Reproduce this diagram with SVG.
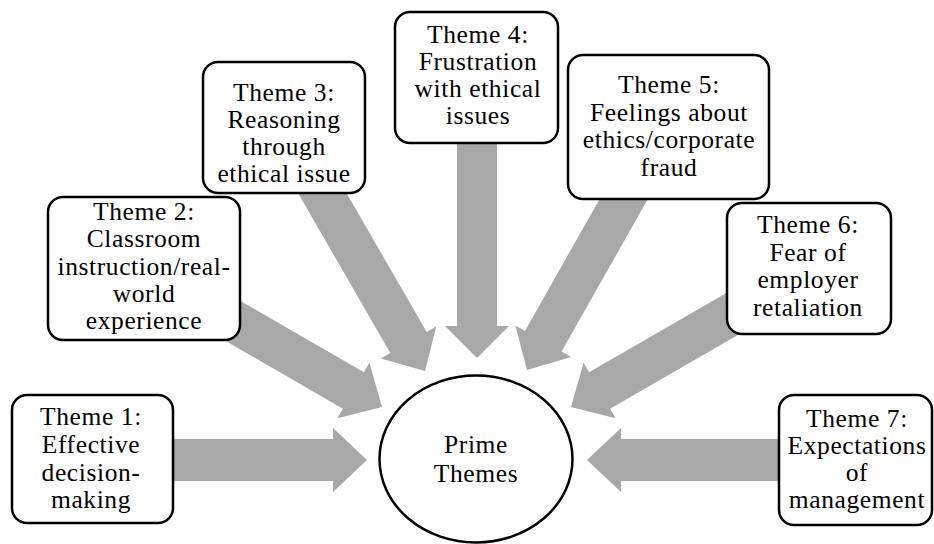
<svg xmlns="http://www.w3.org/2000/svg" width="934" height="544" viewBox="0 0 934 544">
<defs>
<style>
.arrow{fill:#a8a8a8;stroke:none}
.box{fill:#ffffff;stroke:#000000;stroke-width:2.5}
.hub{fill:#ffffff;stroke:#000000;stroke-width:2.5}
.t{font-family:'Liberation Serif','Tinos','Times New Roman','DejaVu Serif',serif;font-size:25.5px;letter-spacing:0.6px;fill:#000000;text-anchor:middle}
</style>
</defs>
<rect x="0" y="0" width="934" height="544" fill="#ffffff"/>
<g id="connectors">
<polygon class="arrow" transform="translate(367,460)" points="0,0 -34,-32 -34,-21 -217,-21 -217,21 -34,21 -34,32"/>
<polygon class="arrow" transform="translate(382,407) rotate(30)" points="0,0 -33,-32 -33,-21 -200,-21 -200,21 -33,21 -33,32"/>
<polygon class="arrow" transform="translate(425,371) rotate(60)" points="0,0 -33,-32 -33,-21 -220,-21 -220,21 -33,21 -33,32"/>
<polygon class="arrow" transform="translate(477,358) rotate(90)" points="0,0 -32,-32 -32,-20 -258,-20 -258,20 -32,20 -32,32"/>
<polygon class="arrow" transform="translate(527,370) rotate(119.5)" points="0,0 -33,-32 -33,-21 -220,-21 -220,21 -33,21 -33,32"/>
<polygon class="arrow" transform="translate(571,407) rotate(150)" points="0,0 -33,-32 -33,-21 -200,-21 -200,21 -33,21 -33,32"/>
<polygon class="arrow" transform="translate(587,460) rotate(180)" points="0,0 -34,-32 -34,-21 -213,-21 -213,21 -34,21 -34,32"/>
</g>
<g class="t" font-family="Liberation Serif, Tinos, Times New Roman, serif">
<g id="theme1">
<rect class="box" x="12" y="395" width="161" height="128" rx="15" ry="15"/>
<text x="91" y="425">Theme 1:</text>
<text x="91" y="453">Effective</text>
<text x="91" y="481">decision-</text>
<text x="91" y="508">making</text>
</g>
<g id="theme2">
<rect class="box" x="48" y="197" width="192" height="143" rx="15" ry="15"/>
<text x="144" y="220">Theme 2:</text>
<text x="144" y="247">Classroom</text>
<text x="144" y="275">instruction/real-</text>
<text x="144" y="302">world</text>
<text x="144" y="329">experience</text>
</g>
<g id="theme3">
<rect class="box" x="203" y="62" width="162" height="131" rx="15" ry="15"/>
<text x="284" y="101">Theme 3:</text>
<text x="284" y="128">Reasoning</text>
<text x="284" y="155">through</text>
<text x="284" y="182">ethical issue</text>
</g>
<g id="theme4">
<rect class="box" x="395" y="12" width="163" height="131" rx="15" ry="15"/>
<text x="478" y="43">Theme 4:</text>
<text x="478" y="70">Frustration</text>
<text x="478" y="97">with ethical</text>
<text x="478" y="124">issues</text>
</g>
<g id="theme5">
<rect class="box" x="568" y="55" width="201" height="144" rx="15" ry="15"/>
<text x="669" y="93">Theme 5:</text>
<text x="669" y="121">Feelings about</text>
<text x="669" y="148">ethics/corporate</text>
<text x="669" y="176">fraud</text>
</g>
<g id="theme6">
<rect class="box" x="727" y="203" width="164" height="131" rx="15" ry="15"/>
<text x="808" y="233">Theme 6:</text>
<text x="808" y="261">Fear of</text>
<text x="808" y="288">employer</text>
<text x="808" y="316">retaliation</text>
</g>
<g id="theme7">
<rect class="box" x="779" y="395" width="153" height="130" rx="15" ry="15"/>
<text x="857" y="427">Theme 7:</text>
<text x="857" y="454">Expectations</text>
<text x="857" y="481">of</text>
<text x="857" y="508">management</text>
</g>
<g id="prime">
<ellipse class="hub" cx="476" cy="459" rx="96.5" ry="83.5"/>
<text x="476" y="453">Prime</text>
<text x="476" y="482">Themes</text>
</g>
</g>
</svg>
